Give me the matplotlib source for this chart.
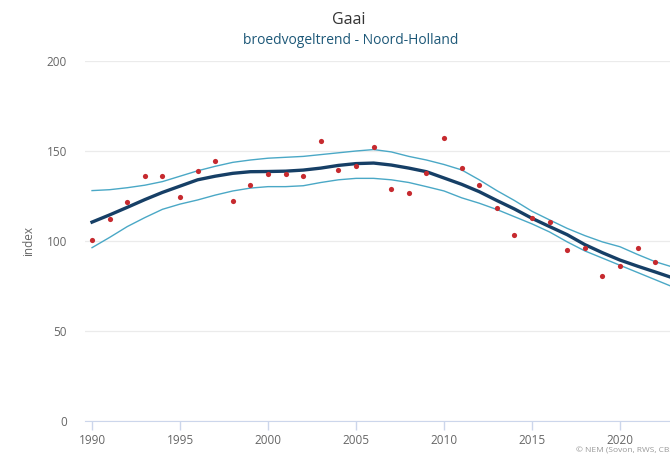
import matplotlib.pyplot as plt

# jaren en geschatte indexwaarden
years = list(range(1990, 2023))
index_points = [100.5, 112, 121.5, 136, 136, 124.4, 138.7, 144.4, 122.2, 131,
                137.4, 137, 136, 155.5, 139.5, 141.7, 152, 129, 126.7, 138,
                157, 140.7, 131, 118.2, 103.5, 112.6, 110.7, 94.8, 95.9, 80.6,
                86.3, 95.9, 88.3]

trend_years = list(range(1990, 2024))
trend = [110.5, 114.5, 118.7, 123, 127, 130.5, 134, 136, 137.6, 138.5,
         138.6, 138.8, 139.4, 140.5, 142, 143, 143.3, 142.2, 140.5, 138.5,
         135, 131.5, 127.4, 122.5, 117.8, 112.6, 108, 103.5, 98, 93.5,
         89.4, 86, 82.8, 79.5]
upper = [128, 128.5, 129.6, 131, 133, 136, 139, 141.5, 143.7, 145,
         146, 146.5, 147, 148, 149, 150, 150.8, 149.5, 147, 145,
         142.5, 139.5, 134, 128, 122.5, 116.5, 111.7, 107, 103, 99.5,
         96.8, 92.5, 88.5, 85.5]
lower = [96.3, 102, 108, 113, 117.6, 120.5, 122.8, 125.5, 127.8, 129.4,
         130.2, 130.2, 130.7, 132.5, 134, 134.8, 134.8, 134, 132.5, 130.2,
         127.8, 124, 121, 117.5, 113.5, 109.5, 105, 99.5, 94.5, 90.5,
         86.5, 82.5, 78.5, 74.5]

x_ticks = [1990, 1995, 2000, 2005, 2010, 2015, 2020]
y_ticks = [0, 50, 100, 150, 200]

plt.rcParams['font.family'] = ['Open Sans', 'DejaVu Sans']

W, H = 670, 455
fig = plt.figure(figsize=(W / 100, H / 100), dpi=100)
ax = fig.add_axes([85 / W, 1 - 421 / H, (670 - 85) / W, (421 - 61) / H])

ax.plot(trend_years, upper, color='#4aa8c6', lw=1.0, zorder=2)
ax.plot(trend_years, lower, color='#4aa8c6', lw=1.0, zorder=2)
ax.plot(trend_years, trend, color='#163f66', lw=2.4, zorder=3)
ax.scatter(years, index_points, s=14, color='#c62a2f', zorder=4, linewidths=0)

ax.set_xlim(1989.6, 2022.84)
ax.set_ylim(0, 200)
ax.set_xticks(x_ticks)
ax.set_yticks(y_ticks)
ax.grid(axis='y', color='#ebebeb', lw=0.9)
ax.set_axisbelow(True)
for side in ['top', 'right', 'left']:
    ax.spines[side].set_visible(False)
ax.spines['bottom'].set_color('#ccd6eb')
ax.spines['bottom'].set_zorder(1)
ax.tick_params(axis='x', colors='#ccd6eb', length=6.5, width=1, labelcolor='#666666',
               labelsize=8.5, pad=2.5)
ax.tick_params(axis='y', length=0, labelcolor='#666666', labelsize=8.5, pad=13)
ax.set_ylabel('index', color='#666666', fontsize=8.5, labelpad=8)

fig.text(349 / W, 1 - 20 / H, 'Gaai', ha='center', va='center', fontsize=11.5, color='#333333')
fig.text(351 / W, 1 - 41 / H, 'broedvogeltrend - Noord-Holland', ha='center', va='center',
         fontsize=10, color='#1d5878')
fig.text(576 / W, 1 - 450 / H, '© NEM (Sovon, RWS, CBS, provincies)', ha='left', va='center',
         fontsize=6, color='#999999')

fig.savefig('out.png', dpi=100)
